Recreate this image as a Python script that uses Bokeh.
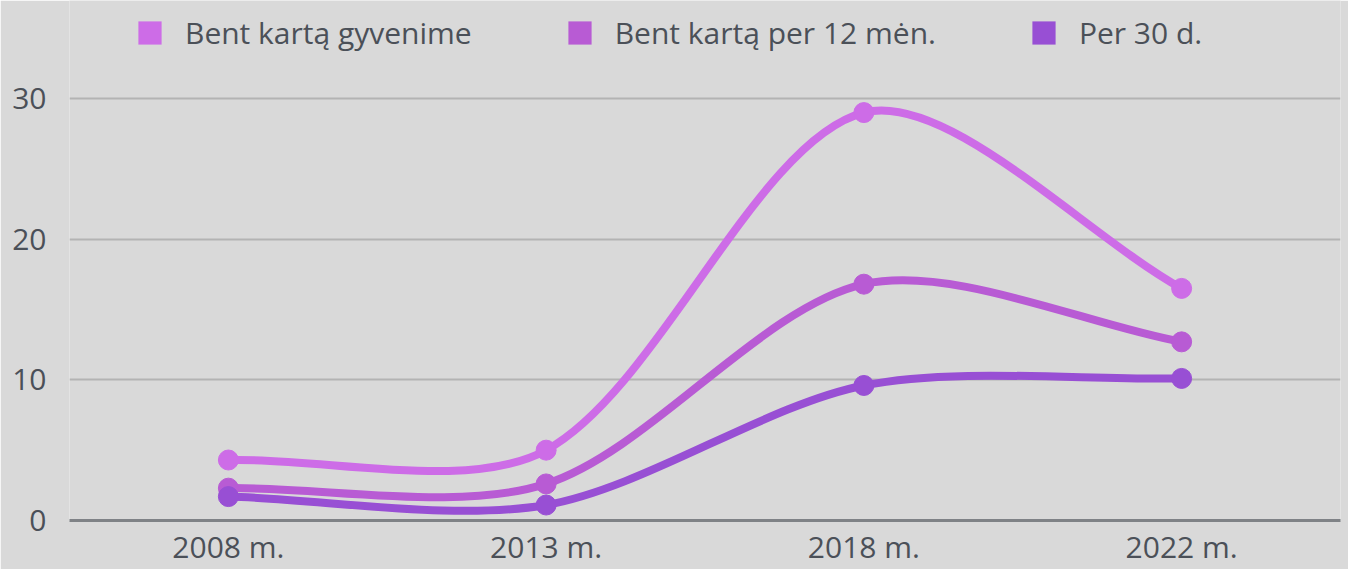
import math
from bokeh.plotting import figure
from bokeh.models import Range1d, FixedTicker, Legend, LegendItem
from bokeh.embed import file_html
from bokeh.resources import INLINE

categories = ["2008 m.", "2013 m.", "2018 m.", "2022 m."]
series_names = ["Bent kartą gyvenime", "Bent kartą per 12 mėn.", "Per 30 d."]
lifetime = [4.3, 5.0, 29.0, 16.5]
last_12m = [2.3, 2.6, 16.8, 12.7]
last_30d = [1.7, 1.1, 9.6, 10.1]
colors = ["#cd6ce7", "#b85bd4", "#984fd4"]
y_ticks = [0, 10, 20, 30]

FONT = "Open Sans"
TXT = "#4b5058"
W, H = 1348, 569
BL, BR, BT, BB = 69, 8, 0, 49
TOP_SPACE = 98          # px between canvas top and the top gridline
TENSION = 0.3

fw = W - BL - BR
fh = H - BT - BB
Y_END = y_ticks[-1] * fh / (fh - TOP_SPACE)

p = figure(width=W, height=H, output_backend="svg", toolbar_location=None,
           x_range=Range1d(0, len(categories)), y_range=Range1d(0, Y_END),
           min_border_left=BL, min_border_right=BR, min_border_top=BT, min_border_bottom=BB,
           background_fill_color="#d9d9d9", border_fill_color="#d9d9d9")
p.outline_line_color = None
p.xgrid.grid_line_color = None
p.ygrid.grid_line_color = "#b3b3b3"
p.ygrid.grid_line_width = 2
p.ygrid.ticker = FixedTicker(ticks=y_ticks[1:])

xs = [i + 0.5 for i in range(len(categories))]
p.xaxis.ticker = FixedTicker(ticks=xs)
p.xaxis.major_label_overrides = {x: c for x, c in zip(xs, categories)}
p.yaxis.ticker = FixedTicker(ticks=y_ticks)
for ax in (p.xaxis[0], p.yaxis[0]):
    ax.major_tick_line_color = None
    ax.minor_tick_line_color = None
    ax.major_tick_out = 0
    ax.major_tick_in = 0
    ax.minor_tick_out = 0
    ax.minor_tick_in = 0
    ax.major_label_text_font = FONT
    ax.major_label_text_font_size = "30px"
    ax.major_label_text_color = TXT
p.yaxis.axis_line_color = None
p.yaxis.major_label_standoff = 23
p.xaxis.axis_line_color = "#7f8286"
p.xaxis.axis_line_width = 3
p.xaxis.major_label_standoff = 5

# pixel scale used for Chart.js-like spline tension
sx = fw / len(categories)
sy = fh / Y_END


def control_points(x, y):
    n = len(x)
    cps = []
    for i in range(n):
        pi = max(i - 1, 0)
        ni = min(i + 1, n - 1)
        d01 = math.hypot((x[i] - x[pi]) * sx, (y[i] - y[pi]) * sy)
        d12 = math.hypot((x[ni] - x[i]) * sx, (y[ni] - y[i]) * sy)
        tot = d01 + d12
        s01 = d01 / tot if tot else 0
        s12 = d12 / tot if tot else 0
        fa, fb = TENSION * s01, TENSION * s12
        dx, dy = x[ni] - x[pi], y[ni] - y[pi]
        cps.append(((x[i] - fa * dx, y[i] - fa * dy), (x[i] + fb * dx, y[i] + fb * dy)))
    return cps


legend_items = []
for name, vals, col in zip(series_names, [lifetime, last_12m, last_30d], colors):
    cps = control_points(xs, vals)
    p.bezier(x0=xs[:-1], y0=vals[:-1], x1=xs[1:], y1=vals[1:],
             cx0=[c[1][0] for c in cps[:-1]], cy0=[c[1][1] for c in cps[:-1]],
             cx1=[c[0][0] for c in cps[1:]], cy1=[c[0][1] for c in cps[1:]],
             line_color=col, line_width=8)
    p.scatter(xs, vals, size=20, color=col)
    r = p.quad(left=[float("nan")], right=[float("nan")], top=[float("nan")], bottom=[float("nan")],
               fill_color=col, line_color=None)
    legend_items.append(LegendItem(label=name, renderers=[r]))

legend = Legend(items=legend_items, orientation="horizontal", location=(66, 467),
                background_fill_alpha=0, border_line_color=None, padding=0, margin=0,
                glyph_width=29, glyph_height=29, label_standoff=21, spacing=93,
                label_text_font=FONT, label_text_font_size="30px", label_text_color=TXT)
p.add_layout(legend, "center")

open("out.html", "w").write(file_html(p, INLINE))
